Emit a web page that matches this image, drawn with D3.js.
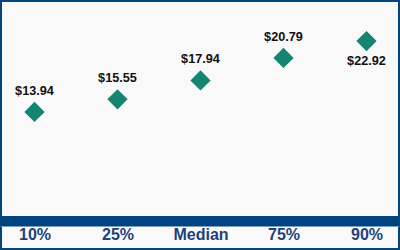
<!DOCTYPE html>
<html><head><meta charset="utf-8">
<script src="https://cdn.jsdelivr.net/npm/d3@7"></script>
<style>html,body{margin:0;padding:0;background:#fff}svg{display:block}</style>
</head><body>
<script>
const categories = ["10%", "25%", "Median", "75%", "90%"];
const values = [13.94, 15.55, 17.94, 20.79, 22.92];
const labels = ["$13.94", "$15.55", "$17.94", "$20.79", "$22.92"];
const labelBelow = [false, false, false, false, true];

const W = 400, H = 250;
const svg = d3.select("body").append("svg").attr("width", W).attr("height", H);
svg.append("rect").attr("x", 1).attr("y", 1).attr("width", W - 2).attr("height", H - 2)
  .attr("fill", "#f9f9f9").attr("stroke", "#02457f").attr("stroke-width", 2);

const x = d3.scalePoint().domain(categories).range([34.5, 366.5]);
const y = d3.scaleLinear().domain([0, 28]).range([222, 1]);

// bottom band
svg.append("rect").attr("x", 1).attr("y", 216).attr("width", W - 2).attr("height", 10).attr("fill", "#00447f");
svg.append("line").attr("x1", 1).attr("x2", W - 1).attr("y1", 226.5).attr("y2", 226.5).attr("stroke", "#7f9fbf").attr("stroke-width", 1);

const axis = d3.axisBottom(x).tickSize(0).tickPadding(0);
const ax = svg.append("g").attr("transform", "translate(0,229)").call(axis);
ax.select(".domain").remove();
ax.selectAll("text").attr("dy", "0.71em").attr("font-family", "Liberation Sans, Arial, sans-serif")
  .attr("font-size", 16).attr("font-weight", "bold").attr("fill", "#1d4279");

const sym = d3.symbol().type(d3.symbolSquare).size(205);
svg.selectAll("path.pt").data(values).join("path").attr("class", "pt")
  .attr("d", sym)
  .attr("transform", (d, i) => `translate(${x(categories[i])},${y(d)}) rotate(45)`)
  .attr("fill", "#158571");

svg.selectAll("text.lbl").data(values).join("text").attr("class", "lbl")
  .attr("x", (d, i) => x(categories[i]))
  .attr("y", (d, i) => y(d) + (labelBelow[i] ? 24 : -17))
  .attr("text-anchor", "middle")
  .attr("font-family", "Liberation Sans, Arial, sans-serif")
  .attr("font-size", 12.7).attr("font-weight", "bold").attr("fill", "#111")
  .text((d, i) => labels[i]);
</script>
</body></html>
